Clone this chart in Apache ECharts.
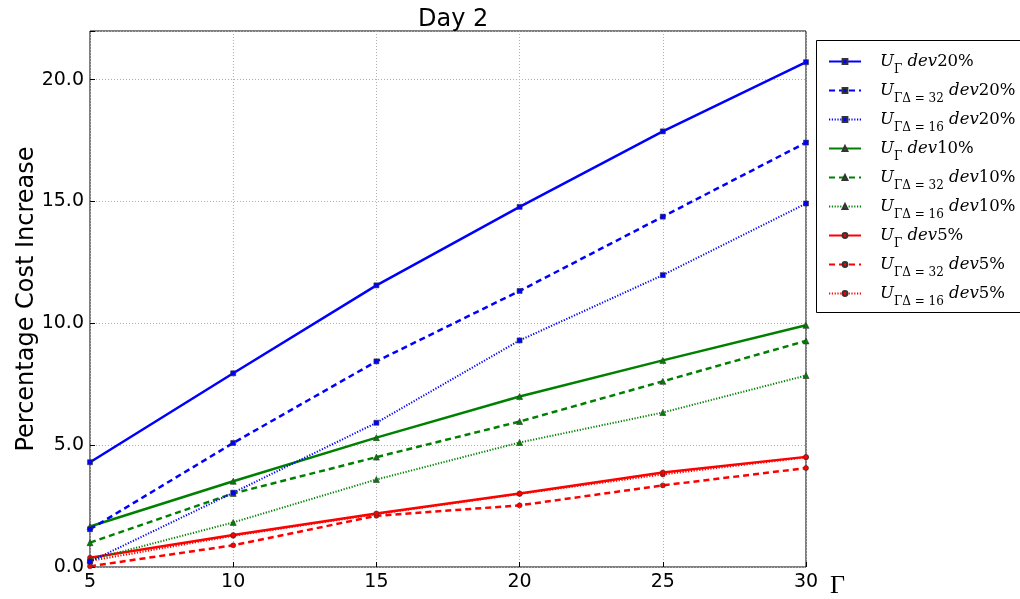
<!DOCTYPE html>
<html><head><meta charset="utf-8">
<script src="https://cdn.jsdelivr.net/npm/echarts@6/dist/echarts.min.js"></script>
<style>html,body{margin:0;padding:0;background:#fff}#c{width:1020px;height:599px}</style>
</head><body><div id="c"></div>
<script>
const gammaValues = [5, 10, 15, 20, 25, 30];
const seriesNames = ['UG dev20%', 'UG32 dev20%', 'UG16 dev20%', 'UG dev10%', 'UG32 dev10%', 'UG16 dev10%', 'UG dev5%', 'UG32 dev5%', 'UG16 dev5%'];
const u_dev20 = [4.3, 7.95, 11.56, 14.78, 17.88, 20.72];
const u32_dev20 = [1.55, 5.09, 8.44, 11.33, 14.38, 17.42];
const u16_dev20 = [0.22, 3.05, 5.92, 9.30, 11.98, 14.92];
const u_dev10 = [1.66, 3.52, 5.31, 7.0, 8.48, 9.92];
const u32_dev10 = [1.0, 3.02, 4.51, 5.97, 7.62, 9.28];
const u16_dev10 = [0.29, 1.83, 3.59, 5.11, 6.34, 7.86];
const u_dev5 = [0.38, 1.31, 2.2, 3.02, 3.88, 4.52];
const u32_dev5 = [0.03, 0.89, 2.1, 2.53, 3.35, 4.06];
const u16_dev5 = [0.25, 1.28, 2.17, 3.0, 3.8, 4.5];
const yTicks = [0, 5, 10, 15, 20];

const chart = echarts.init(document.getElementById('c'), null, {renderer: 'canvas'});
const colors = ['#0000ff', '#0000ff', '#0000ff', '#008000', '#008000', '#008000', '#ff0000', '#ff0000', '#ff0000'];
const symbols = ['rect', 'rect', 'rect', 'triangle', 'triangle', 'triangle', 'circle', 'circle', 'circle'];
const dashes = ['solid', [6, 4], [1.2, 1.6], 'solid', [6, 4], [1.2, 1.6], 'solid', [6, 4], [1.2, 1.6]];
const widths = [2.5, 2.5, 2, 2.5, 2.5, 2, 2.5, 2.5, 2];
const allData = [u_dev20, u32_dev20, u16_dev20, u_dev10, u32_dev10, u16_dev10, u_dev5, u32_dev5, u16_dev5];
const subs = ['Γ', 'ΓΔ = 32', 'ΓΔ = 16', 'Γ', 'ΓΔ = 32', 'ΓΔ = 16', 'Γ', 'ΓΔ = 32', 'ΓΔ = 16'];
const devs = ['20%', '20%', '20%', '10%', '10%', '10%', '5%', '5%', '5%'];

const series = allData.map((d, i) => ({
  name: seriesNames[i],
  type: 'line',
  data: gammaValues.map((g, k) => [g, d[k]]),
  symbol: symbols[i],
  symbolSize: symbols[i] === 'triangle' ? 6 : 5,
  showSymbol: true,
  itemStyle: {color: colors[i], borderColor: '#333', borderWidth: 0.6},
  lineStyle: {color: colors[i], width: widths[i], type: dashes[i]},
  z: 10 - i,
  animation: false
}));

const serif = 'DejaVu Serif';
chart.setOption({
  animation: false,
  title: {text: 'Day 2', left: 413, top: 3, textStyle: {fontFamily: 'DejaVu Sans', fontSize: 24, fontWeight: 'normal', color: '#000'}},
  grid: {left: 90, top: 31, right: 214, bottom: 32, show: true, borderColor: '#000', borderWidth: 1, backgroundColor: 'transparent'},
  xAxis: {
    type: 'value', min: 5, max: 30, interval: 5,
    name: 'Γ', nameLocation: 'end', nameGap: 24,
    nameTextStyle: {fontFamily: 'Liberation Serif', fontSize: 26, color: '#000', verticalAlign: 'top', padding: [6, 0, 0, 0]},
    axisLine: {show: false}, axisTick: {show: true, inside: true, length: 5, lineStyle: {color: '#000'}},
    axisLabel: {fontFamily: 'DejaVu Sans', fontSize: 19, color: '#000', margin: 6},
    splitLine: {show: true, lineStyle: {color: '#b0b0b0', type: [1, 2], width: 1}}
  },
  yAxis: {
    type: 'value', min: 0, max: 22, interval: 5,
    name: 'Percentage Cost Increase', nameLocation: 'middle', nameGap: 51, nameRotate: 90,
    nameMoveOverlap: false,
    nameTextStyle: {fontFamily: 'DejaVu Sans', fontSize: 24, color: '#000'},
    axisLine: {show: false}, axisTick: {show: true, inside: true, length: 5, lineStyle: {color: '#000'}},
    axisLabel: {fontFamily: 'DejaVu Sans', fontSize: 19, color: '#000', margin: 6,
      formatter: v => yTicks.indexOf(v) >= 0 ? v.toFixed(1) : ''},
    splitLine: {show: true, lineStyle: {color: '#b0b0b0', type: [1, 2], width: 1}}
  },
  legend: {
    orient: 'vertical', left: 823, top: 48, itemWidth: 32, itemHeight: 6, itemGap: 6.5,
    data: seriesNames,
    formatter: name => {
      const i = seriesNames.indexOf(name);
      return '{u|U}{s|' + subs[i] + '}{i| dev}{n|' + devs[i] + '}';
    },
    textStyle: {
      color: '#000', padding: [0, 0, 0, 14],
      rich: {
        u: {fontFamily: serif, fontStyle: 'italic', fontSize: 16.5, lineHeight: 22, verticalAlign: 'middle'},
        s: {fontFamily: serif, fontSize: 12, lineHeight: 22, verticalAlign: 'bottom', padding: [0, 0, -3, 0]},
        i: {fontFamily: serif, fontStyle: 'italic', fontSize: 16.5, lineHeight: 22},
        n: {fontFamily: serif, fontSize: 16.5, lineHeight: 22}
      }
    }
  },
  graphic: [{type: 'rect', shape: {x: 816.5, y: 40.5, width: 220, height: 272}, style: {fill: 'none', stroke: '#000', lineWidth: 1}, silent: true}],
  series: series
});
</script></body></html>
